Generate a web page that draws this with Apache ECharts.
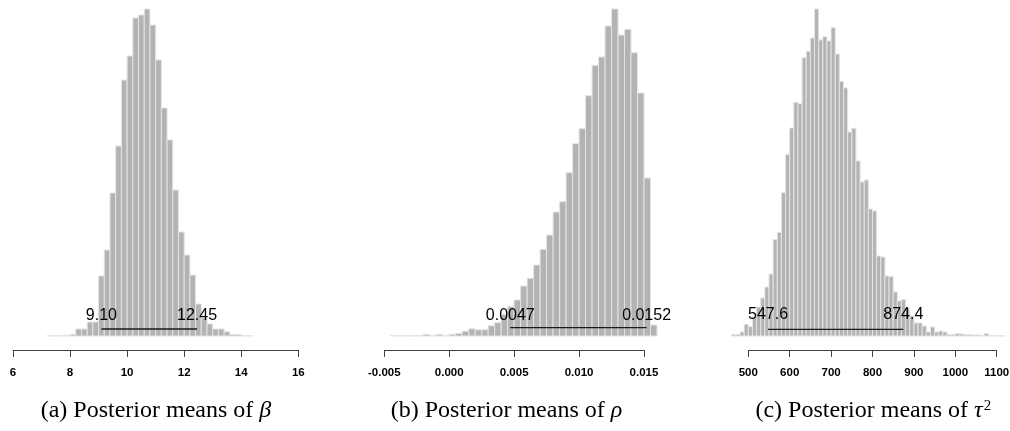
<!DOCTYPE html>
<html><head><meta charset="utf-8">
<script src="https://cdn.jsdelivr.net/npm/echarts@6/dist/echarts.min.js"></script>
<style>html,body{margin:0;padding:0;background:#fff}#c{width:1010px;height:431px}</style>
</head><body><div id="c"></div>
<script>
// ---------- Data ----------
// (a) Posterior means of beta: histogram bin starts (width 0.2) and heights
const binsA = [7.2,7.4,7.6,7.8,8.0,8.2,8.4,8.6,8.8,9.0,9.2,9.4,9.6,9.8,10.0,10.2,10.4,10.6,10.8,11.0,11.2,11.4,11.6,11.8,12.0,12.2,12.4,12.6,12.8,13.0,13.2,13.4,13.6,13.8,14.0,14.2];
const countsA = [0.3,0.3,0.5,0.8,1.7,7,7,14,14,60,86,143,190,256,280,318,321,327,311,276,228,196,146,104,81,61,32,18,12,7,7,4.3,1.5,1.5,0.5,0.3];
const binWidthA = 0.2;
const ticksA = ['6','8','10','12','14','16'];
const ciA = [9.10, 12.45];
const ciLabelsA = ['9.10','12.45'];

// (b) Posterior means of rho: bin starts (width 0.0005) and heights
const binsB = [-0.0045,-0.004,-0.0035,-0.003,-0.0025,-0.002,-0.0015,-0.001,-0.0005,0,0.0005,0.001,0.0015,0.002,0.0025,0.003,0.0035,0.004,0.0045,0.005,0.0055,0.006,0.0065,0.007,0.0075,0.008,0.0085,0.009,0.0095,0.01,0.0105,0.011,0.0115,0.012,0.0125,0.013,0.0135,0.014,0.0145,0.015,0.0155];
const countsB = [0.5,0.5,0.3,0.3,0.3,1.7,0.3,1.7,0.5,1.7,2.7,4.8,7.2,6.2,6.2,10.3,13.3,21.7,29.3,36,50,57.7,71,86.7,101,124,134.3,163.3,192.3,207.3,240.3,270.7,279,310,327,301,306.7,283.3,243,158,11];
const binWidthB = 0.0005;
const ticksB = ['-0.005','0.000','0.005','0.010','0.015'];
const ciB = [0.0047, 0.0152];
const ciLabelsB = ['0.0047','0.0152'];

// (c) Posterior means of tau^2: bin starts (width 10) and heights
const binsC = [460,470,480,490,500,510,520,530,540,550,560,570,580,590,600,610,620,630,640,650,660,670,680,690,700,710,720,730,740,750,760,770,780,790,800,810,820,830,840,850,860,870,880,890,900,910,920,930,940,950,960,970,980,990,1000,1010,1020,1030,1040,1050,1060,1070,1080,1090,1100,1110];
const countsC = [1.3,1.7,4,11.7,9.3,19,29,38,49,62,96.5,103.7,143.3,181.7,208,233.7,232.3,278.3,284.7,298,327,296,299.3,295,308.3,282,254.7,248,204,207.7,175,154,156,127,125,80,79,60,59.4,44,35,36.4,28,20,13,13,10,4,9,4,5,4,1.5,1.5,2.4,2,1.5,1.2,1,1,0.6,2.5,0.5,0.5,0.3,0.3];
const binWidthC = 10;
const ticksC = ['500','600','700','800','900','1000','1100'];
const ciC = [547.6, 874.4];
const ciLabelsC = ['547.6','874.4'];

const captions = ['(a) Posterior means of {i|β}', '(b) Posterior means of {i|ρ}', '(c) Posterior means of {i|τ}{s|2}'];

// ---------- Layout / style ----------
const panels = [
  {bins: binsA, counts: countsA, w: binWidthA, ticks: ticksA, ci: ciA, ciLabels: ciLabelsA,
   min: 6, max: 16, interval: 2, left: 13, width: 285.3, lineLevel: 7, labelLevel: 12, capX: 156},
  {bins: binsB, counts: countsB, w: binWidthB, ticks: ticksB, ci: ciB, ciLabels: ciLabelsB,
   min: -0.005, max: 0.015, interval: 0.005, left: 384.3, width: 259.7, lineLevel: 8.3, labelLevel: 12, capX: 506.5},
  {bins: binsC, counts: countsC, w: binWidthC, ticks: ticksC, ci: ciC, ciLabels: ciLabelsC,
   min: 500, max: 1100, interval: 100, left: 748.3, width: 248.4, lineLevel: 6.7, labelLevel: 13, capX: 873.3}
];
const GRID_TOP = 9, GRID_H = 327;

const chart = echarts.init(document.getElementById('c'), null, {renderer: 'canvas'});

function histRender(params, api) {
  const p0 = api.coord([api.value(0), api.value(2)]);
  const p1 = api.coord([api.value(1), 0]);
  return {type: 'rect',
    shape: {x: p0[0], y: p0[1], width: p1[0] - p0[0], height: p1[1] - p0[1]},
    style: {fill: '#b3b3b3', stroke: '#e4e4e4', lineWidth: 1}};
}

const grids = [], xAxes = [], yAxes = [], series = [], graphics = [];
panels.forEach((p, k) => {
  const ymax = Math.max.apply(null, p.counts);
  grids.push({left: p.left, top: GRID_TOP, width: p.width, height: GRID_H, containLabel: false, outerBoundsMode: 'none'});
  xAxes.push({type: 'value', gridIndex: k, min: p.min, max: p.max, interval: p.interval,
    position: 'bottom', offset: 14,
    axisLine: {show: true, onZero: false, lineStyle: {color: '#444', width: 1}},
    axisTick: {show: true, length: 7, lineStyle: {color: '#444', width: 1}},
    splitLine: {show: false},
    axisLabel: {show: true, margin: 17, color: '#000', fontFamily: 'Liberation Sans', fontWeight: 'bold', fontSize: 11.5,
      showMinLabel: true, showMaxLabel: true, hideOverlap: false,
      formatter: (v) => p.ticks[Math.round((v - p.min) / p.interval)]}});
  yAxes.push({type: 'value', gridIndex: k, min: 0, max: ymax, show: false});
  series.push({type: 'custom', xAxisIndex: k, yAxisIndex: k, clip: false, silent: true,
    data: p.bins.map((b, i) => [b, b + p.w, p.counts[i]]),
    encode: {x: [0, 1], y: 2}, renderItem: histRender});
  series.push({type: 'custom', xAxisIndex: k, yAxisIndex: k, clip: false, silent: true, z: 5,
    data: [[p.ci[0], p.ci[1]]], encode: {x: [0, 1]},
    renderItem: (params, api) => {
      const lo = api.value(0), hi = api.value(1);
      const a = api.coord([lo, p.lineLevel]), b = api.coord([hi, p.lineLevel]);
      const ta = api.coord([lo, p.labelLevel]), tb = api.coord([hi, p.labelLevel]);
      const font = '16px "Liberation Sans", Arial, sans-serif';
      return {type: 'group', children: [
        {type: 'line', shape: {x1: a[0], y1: a[1], x2: b[0], y2: b[1]}, style: {stroke: '#1a1a1a', lineWidth: 1.3}},
        {type: 'text', x: ta[0], y: ta[1], style: {text: p.ciLabels[0], font: font, fill: '#000', align: 'center', verticalAlign: 'bottom'}},
        {type: 'text', x: tb[0], y: tb[1], style: {text: p.ciLabels[1], font: font, fill: '#000', align: 'center', verticalAlign: 'bottom'}}
      ]};
    }});
  graphics.push({type: 'text', x: p.capX, y: 411, silent: true,
    style: {text: captions[k], fill: '#000', font: '24px "Liberation Serif", serif', align: 'center', verticalAlign: 'middle',
      rich: {i: {fontFamily: 'Liberation Serif', fontStyle: 'italic', fontSize: 24, fill: '#000'},
             s: {fontFamily: 'Liberation Serif', fontSize: 15, fill: '#000', verticalAlign: 'top', lineHeight: 24, padding: [0, 0, 9, 1]}}}});
});

chart.setOption({
  animation: false,
  backgroundColor: '#fff',
  grid: grids, xAxis: xAxes, yAxis: yAxes, series: series, graphic: graphics
});
</script></body></html>
